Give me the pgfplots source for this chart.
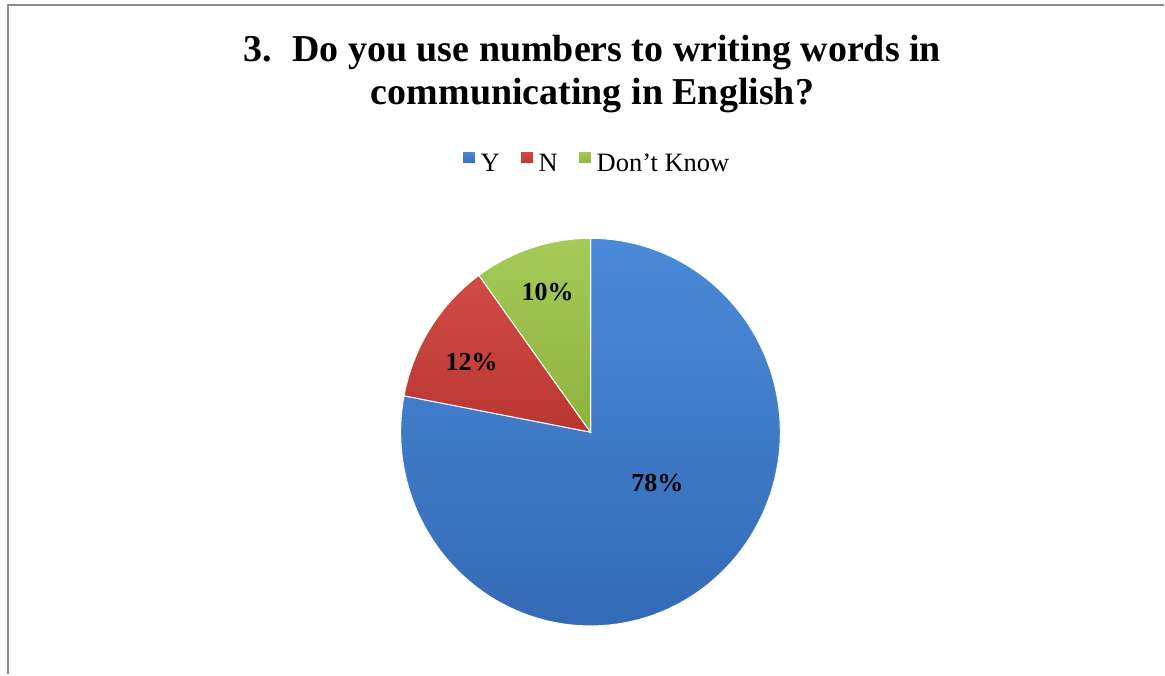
\documentclass[border=0pt]{standalone}
\usepackage{pgfplots}
\pgfplotsset{compat=1.18}
\usepackage{fontspec}
\setmainfont{Liberation Serif}
\definecolor{pieblue}{HTML}{3E7ACD}
\definecolor{piebluetop}{HTML}{4B8AD8}
\definecolor{piebluebot}{HTML}{336AB6}
\definecolor{piered}{HTML}{C83F3B}
\definecolor{pieredtop}{HTML}{D24C47}
\definecolor{pieredbot}{HTML}{B83631}
\definecolor{piegreen}{HTML}{9BC048}
\definecolor{piegreentop}{HTML}{A6CA58}
\definecolor{piegreenbot}{HTML}{8DB23D}
\definecolor{framegray}{HTML}{8C8C8C}
% data (percent)
\def\vY{78}
\def\vN{12}
\def\vD{10}
\pgfmathsetmacro\aA{90}
\pgfmathsetmacro\aB{90-3.6*\vY}
\pgfmathsetmacro\aC{\aB-3.6*\vN}
\pgfmathsetmacro\aD{\aC-3.6*\vD}
\begin{document}
\begin{tikzpicture}
\begin{axis}[
  scale only axis, width=1165pt, height=675pt,
  xmin=0, xmax=1165, ymin=0, ymax=675,
  hide axis, clip=false,
  legend columns=3,
  legend style={draw=none, fill=none, font=\fontsize{26.5}{30}\selectfont,
    at={(0.5124,0.7585)}, anchor=center,
    /tikz/every even column/.append style={column sep=18pt}},
  legend image code/.code={\fill[#1] (0pt,-1pt) rectangle (13pt,12pt);\path (0pt,0pt) -- (16pt,0pt);},
]
\path (axis cs:0,0) rectangle (axis cs:1165,675);
\addplot[fill=pieblue, top color=piebluetop, bottom color=piebluebot, draw=white, line width=1pt, domain=\aA:\aB, samples=120, variable=\t]
  ({591+190*cos(\t)},{242.5+194*sin(\t)}) -- (axis cs:591,242.5) -- cycle;
\addlegendentry{Y}
\addplot[fill=piered, top color=pieredtop, bottom color=pieredbot, draw=white, line width=1pt, domain=\aB:\aC, samples=30, variable=\t]
  ({591+190*cos(\t)},{242.5+194*sin(\t)}) -- (axis cs:591,242.5) -- cycle;
\addlegendentry{N}
\addplot[fill=piegreen, top color=piegreentop, bottom color=piegreenbot, draw=white, line width=1pt, domain=\aC:\aD, samples=30, variable=\t]
  ({591+190*cos(\t)},{242.5+194*sin(\t)}) -- (axis cs:591,242.5) -- cycle;
\addlegendentry{Don’t Know}
\node[font=\fontsize{26}{28}\selectfont\bfseries] at (axis cs:658,192) {78\%};
\node[font=\fontsize{26}{28}\selectfont\bfseries] at (axis cs:472,313) {12\%};
\node[font=\fontsize{26}{28}\selectfont\bfseries] at (axis cs:548,383) {10\%};
\node[font=\fontsize{38}{44}\selectfont\bfseries, anchor=base] at (axis cs:593,613) {3.\hspace{20pt}Do you use numbers to writing words in};
\node[font=\fontsize{38}{44}\selectfont\bfseries, anchor=base] at (axis cs:593,570) {communicating in English?};
\draw[framegray, line width=2pt] (axis cs:8.5,0) -- (axis cs:8.5,669.5) -- (axis cs:1165,669.5);
\end{axis}
\end{tikzpicture}
\end{document}
